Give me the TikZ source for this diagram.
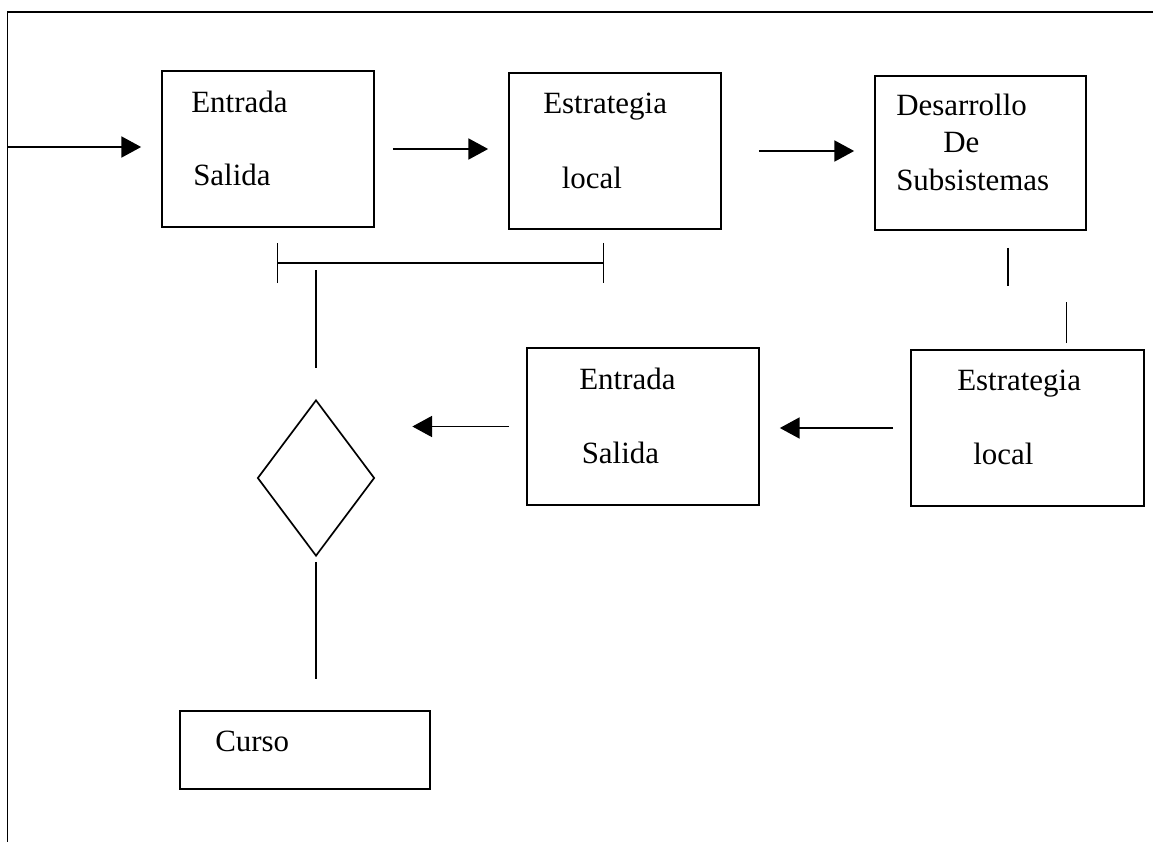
\documentclass[tikz,border=0pt]{standalone}
\usepackage{fontspec}
\setmainfont{Liberation Serif}
\usetikzlibrary{calc}
\usetikzlibrary{arrows.meta}
\usetikzlibrary{shapes.geometric}

\tikzset{
    caja/.style={draw, line width=1.2pt, minimum width=5.3cm, minimum height=3.9cm, inner sep=0pt},
    texto/.style={anchor=base west, inner sep=0pt, font=\fontsize{22}{26}\selectfont},
    flecha/.style={line width=0.9pt, -{Triangle[length=14pt, width=15pt]}},
    linea/.style={line width=0.9pt},
}

\begin{document}
\begin{tikzpicture}[x=0.025cm, y=-0.025cm]
    \useasboundingbox (0, 0) rectangle (1153, 842);
    % marco
    \draw[linea] (7.5, 842) -- (7.5, 12) -- (1153, 12);
    \coordinate (ent) at (7.5, 147);

    % fila de arriba
    \node[caja] (io1) at (268, 149) {};
    \node[texto] (io1a) at (191, 112) {Entrada};
    \node[texto] (io1b) at (193, 185) {Salida};
    \node[caja] (est1) at (615, 151) {};
    \node[texto] (est1a) at (543, 113) {Estrategia};
    \node[texto] (est1b) at (561.5, 188) {local};
    \node[caja, minimum width=5.275cm, minimum height=3.85cm] (des) at (980.5, 153) {};
    \node[texto] (desa) at (896, 115) {Desarrollo};
    \node[texto] (desb) at (943, 152) {De};
    \node[texto] (desc) at (896, 190) {Subsistemas};

    \draw[flecha, shorten >=0.5cm] (ent) -- (ent -| io1.west);
    \draw[flecha, shorten <=0.45cm, shorten >=0.5cm] (io1.east) -- (io1.east -| est1.west);
    \draw[flecha, shorten <=0.925cm, shorten >=0.5cm] (est1.east) -- (est1.east -| des.west);

    % corchete
    \coordinate (bi) at (277, 263);
    \coordinate (bd) at (604, 263);
    \draw[linea, {Bar[width=1cm]}-{Bar[width=1cm]}] (bi) -- (bd);
    \coordinate (bv) at (316, 270);

    % fila de abajo
    \node[caja, minimum width=5.8cm, minimum height=3.925cm] (io2) at (643, 426.5) {};
    \node[texto] (io2a) at (579, 389) {Entrada};
    \node[texto] (io2b) at (581.5, 463) {Salida};
    \node[caja, minimum width=5.825cm] (est2) at (1027.5, 428) {};
    \node[texto] (est2a) at (957, 390) {Estrategia};
    \node[texto] (est2b) at (973, 464) {local};
    \node[draw, diamond, line width=1.2pt, minimum width=2.925cm, minimum height=3.9cm, inner sep=0pt] (dec) at (316, 478) {};
    \node[caja, minimum width=6.25cm, minimum height=1.95cm] (curso) at (305, 750) {};
    \node[texto] (cursoa) at (215, 751) {Curso};

    \draw[linea] ($(des.south)+(27.5, 17)$) -- ++(0, 38);
    \draw[linea] ($(est2.north)+(39, -6)$) -- ++(0, -41);
    \draw[flecha, shorten <=0.425cm, shorten >=0.5cm] (est2.west) -- (est2.west -| io2.east);
    \draw[flecha, shorten <=0.425cm, shorten >=0.925cm] (io2.west) -- (dec.east |- io2.west);
    \draw[linea, shorten >=0.775cm] (bv) -- (dec.north);
    \draw[linea, shorten <=0.125cm, shorten >=0.775cm] (dec.south) -- (dec.south |- curso.north);
\end{tikzpicture}
\end{document}
